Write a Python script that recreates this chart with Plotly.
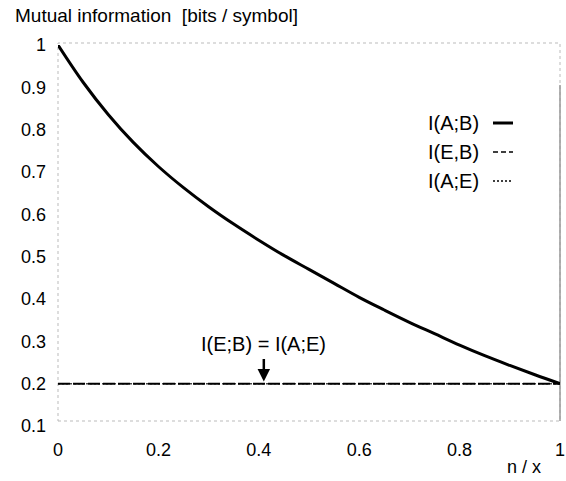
import plotly.graph_objects as go

# Data
x_vals = [0.0, 0.05, 0.1, 0.15, 0.2, 0.25, 0.3, 0.35, 0.4, 0.45, 0.5,
          0.55, 0.6, 0.65, 0.7, 0.75, 0.8, 0.85, 0.9, 0.95, 1.0]
i_ab = [1.0, 0.912, 0.836, 0.77, 0.713, 0.663, 0.618, 0.577, 0.539, 0.503, 0.470,
        0.437, 0.404, 0.374, 0.345, 0.318, 0.291, 0.266, 0.243, 0.221, 0.2]
x_flat = [0.0, 1.0]
i_eb = [0.2, 0.2]
i_ae = [0.2, 0.2]

x_ticks = [0, 0.2, 0.4, 0.6, 0.8, 1]
x_ticktext = ["0", "0.2", "0.4", "0.6", "0.8", "1"]
y_ticks = [0.1, 0.2, 0.3, 0.4, 0.5, 0.6, 0.7, 0.8, 0.9, 1]
y_ticktext = ["0.1", "0.2", "0.3", "0.4", "0.5", "0.6", "0.7", "0.8", "0.9", "1"]

legend_names = ["I(A;B)", "I(E,B)", "I(A;E)"]
legend_dashes = ["solid", "5px,3px", "2px,2px"]
legend_widths = [3, 1.5, 1.5]

font = "Liberation Sans, Arial, Helvetica, sans-serif"

W, H = 566, 481
L, R, T, B = 58, 6, 45, 55
pw = W - L - R
ph = H - T - B


def px_x(p):
    return (p - L) / pw


def px_y(p):
    return 1 - (p - T) / ph


fig = go.Figure()
fig.add_trace(go.Scatter(x=x_flat, y=i_ae, mode="lines",
                         line=dict(color="#444", width=1.5, dash="2px,2px"),
                         name="I(A;E)", showlegend=False))
fig.add_trace(go.Scatter(x=x_flat, y=i_eb, mode="lines",
                         line=dict(color="black", width=2, dash="12px,3px"),
                         name="I(E,B)", showlegend=False))
fig.add_trace(go.Scatter(x=x_vals, y=i_ab, mode="lines", line_shape="spline",
                         line=dict(color="black", width=3),
                         name="I(A;B)", showlegend=False))

# faint frame
fig.add_shape(type="rect", xref="paper", yref="paper", x0=0, x1=1,
              y0=px_y(421), y1=px_y(43),
              line=dict(color="#bbb", width=1, dash="dot"), layer="below")
fig.add_shape(type="line", xref="paper", yref="paper", x0=1, x1=1,
              y0=px_y(421), y1=px_y(85),
              line=dict(color="#999", width=1.5), layer="below")

# manual legend
leg_y = [123, 152, 181]
for name, dash, w, yp in zip(legend_names, legend_dashes, legend_widths, leg_y):
    yy = px_y(yp)
    fig.add_annotation(xref="paper", yref="paper", x=px_x(481), y=yy,
                       text=name, showarrow=False, xanchor="right", yanchor="middle",
                       font=dict(family=font, size=20, color="black"))
    fig.add_shape(type="line", xref="paper", yref="paper",
                  x0=px_x(493), x1=px_x(513), y0=yy, y1=yy,
                  line=dict(color="black", width=w, dash=dash))

# annotation with arrow
fig.add_annotation(x=0.41, y=0.205, ax=0.41, ay=0.262, xref="x", yref="y",
                   axref="x", ayref="y", text="", showarrow=True,
                   arrowhead=2, arrowsize=1, arrowwidth=2.5, arrowcolor="black")
fig.add_annotation(x=0.41, y=0.262, xref="x", yref="y", text="I(E;B) = I(A;E)",
                   showarrow=False, yanchor="bottom",
                   font=dict(family=font, size=20, color="black"))

fig.add_annotation(xref="paper", yref="paper", x=px_x(13), y=px_y(16),
                   text="Mutual information  [bits / symbol]", showarrow=False,
                   xanchor="left", yanchor="middle",
                   font=dict(family=font, size=19, color="black"))
fig.add_annotation(xref="paper", yref="paper", x=px_x(524), y=px_y(467),
                   text="n / x", showarrow=False, xanchor="center", yanchor="middle",
                   font=dict(family=font, size=18, color="black"))

fig.update_layout(
    width=W, height=H,
    margin=dict(l=L, r=R, t=T, b=B),
    plot_bgcolor="white", paper_bgcolor="white",
    font=dict(family=font, size=18, color="black"),
    showlegend=False,
)
fig.update_xaxes(range=[0, 1], tickvals=x_ticks, ticktext=x_ticktext,
                 showgrid=False, zeroline=False, showline=False, ticks="",
                 ticklabelstandoff=11, ticklabeloverflow="allow", automargin=False)
fig.update_yaxes(range=[0.1, 1], tickvals=y_ticks, ticktext=y_ticktext,
                 showgrid=False, zeroline=False, showline=False, ticks="",
                 ticklabelstandoff=11, automargin=False)

fig.write_html("out.html", config={"displayModeBar": False},
               post_script="document.body.style.margin='0';document.body.style.padding='0';")
